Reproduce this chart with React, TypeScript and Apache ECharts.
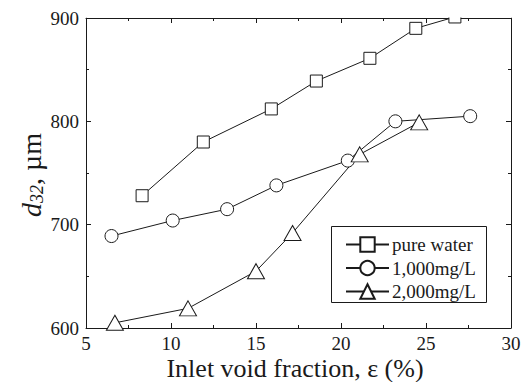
import React, { useEffect, useRef } from "react";
import * as echarts from "echarts";

const pureX = [8.3, 11.9, 15.9, 18.55, 21.7, 24.4, 26.7];
const pureY = [728, 780, 812, 839, 861, 890, 901];
const c1000X = [6.5, 10.1, 13.3, 16.2, 20.4, 23.2, 27.6];
const c1000Y = [689, 704, 715, 738, 762, 800, 805];
const c2000X = [6.7, 11.0, 15.0, 17.15, 21.1, 24.6];
const c2000Y = [605, 619, 655, 692, 768, 799];
const seriesNames = ["pure water", "1,000mg/L", "2,000mg/L"];

const FONT = "'Liberation Serif', 'Times New Roman', serif";
const INK = "#1a1a1a";

const zip = (xs: number[], ys: number[]) => xs.map((x, i) => [x, ys[i]]);

export default function App() {
  const ref = useRef<HTMLDivElement>(null);
  useEffect(() => {
    if (!ref.current) return;
    const chart = echarts.init(ref.current, undefined, { renderer: "svg" });
    const axisCommon = {
      type: "value" as const,
      axisLine: { show: true, lineStyle: { color: INK, width: 1 } },
      axisTick: { show: true, inside: true, length: 5, lineStyle: { color: INK } },
      minorTick: { show: true, splitNumber: 2, length: 3, lineStyle: { color: INK } },
      splitLine: { show: false },
      minorSplitLine: { show: false },
    };
    const xBase = { ...axisCommon, min: 5, max: 30, interval: 5 };
    const yBase = { ...axisCommon, min: 600, max: 900, interval: 100 };
    const mk = (name: string, data: number[][], symbol: string, size: any) => ({
      name,
      type: "line",
      data,
      symbol,
      symbolSize: size,
      clip: false,
      lineStyle: { color: INK, width: 1 },
      itemStyle: { color: "#fff", borderColor: INK, borderWidth: 1 },
      emphasis: { disabled: true },
      z: 3,
    });
    chart.setOption({
      animation: false,
      textStyle: { fontFamily: FONT, color: INK },
      grid: { left: 86, top: 18, right: 17, bottom: 54, containLabel: false },
      xAxis: [
        {
          ...xBase,
          position: "bottom",
          axisLabel: { fontFamily: FONT, fontSize: 19, lineHeight: 20, color: INK, margin: 5 },
        },
        { ...xBase, position: "top", axisLabel: { show: false } },
      ],
      yAxis: [
        {
          ...yBase,
          position: "left",
          axisLabel: { fontFamily: FONT, fontSize: 19, lineHeight: 20, color: INK, margin: 7 },
        },
        { ...yBase, position: "right", axisLabel: { show: false } },
      ],
      legend: {
        orient: "vertical",
        left: 345,
        top: 235,
        padding: 0,
        itemWidth: 43,
        itemHeight: 18,
        itemGap: 4.5,
        data: seriesNames,
        textStyle: { fontFamily: FONT, fontSize: 19, color: INK, lineHeight: 19, padding: [0, 0, 0, -2] },
        selectedMode: false,
      },
      series: [
        mk(seriesNames[0], zip(pureX, pureY), "rect", 12),
        mk(seriesNames[1], zip(c1000X, c1000Y), "circle", 13),
        mk(seriesNames[2], zip(c2000X, c2000Y), "triangle", [17, 15]),
      ],
      graphic: [
        {
          type: "rect",
          shape: { x: 86, y: 0, width: 426, height: 17.5 },
          style: { fill: "#fff" },
          z: 10,
        },
        {
          type: "rect",
          shape: { x: 331.5, y: 226.5, width: 155, height: 76 },
          style: { fill: "none", stroke: INK, lineWidth: 1 },
          z: 10,
        },
        {
          type: "text",
          x: 295,
          y: 368,
          style: {
            text: "Inlet void fraction, ε (%)",
            align: "center",
            verticalAlign: "middle",
            fontFamily: FONT,
            fontSize: 26,
            lineHeight: 26,
            fill: INK,
          },
          z: 10,
        },
        {
          type: "text",
          x: 31,
          y: 175,
          rotation: Math.PI / 2,
          style: {
            text: "{d|d}{s|32}{n|, µm}",
            align: "center",
            verticalAlign: "middle",
            fill: INK,
            rich: {
              d: { fontFamily: FONT, fontSize: 28, fontStyle: "italic", lineHeight: 30, fill: INK },
              s: { fontFamily: FONT, fontSize: 18, fontStyle: "italic", lineHeight: 14, verticalAlign: "bottom", fill: INK },
              n: { fontFamily: FONT, fontSize: 28, lineHeight: 30, fill: INK },
            },
          },
          z: 10,
        },
      ],
    });
    return () => chart.dispose();
  }, []);
  return (
    <div
      ref={ref}
      style={{ position: "fixed", left: 0, top: 0, width: 528, height: 382, background: "#fff" }}
    />
  );
}
